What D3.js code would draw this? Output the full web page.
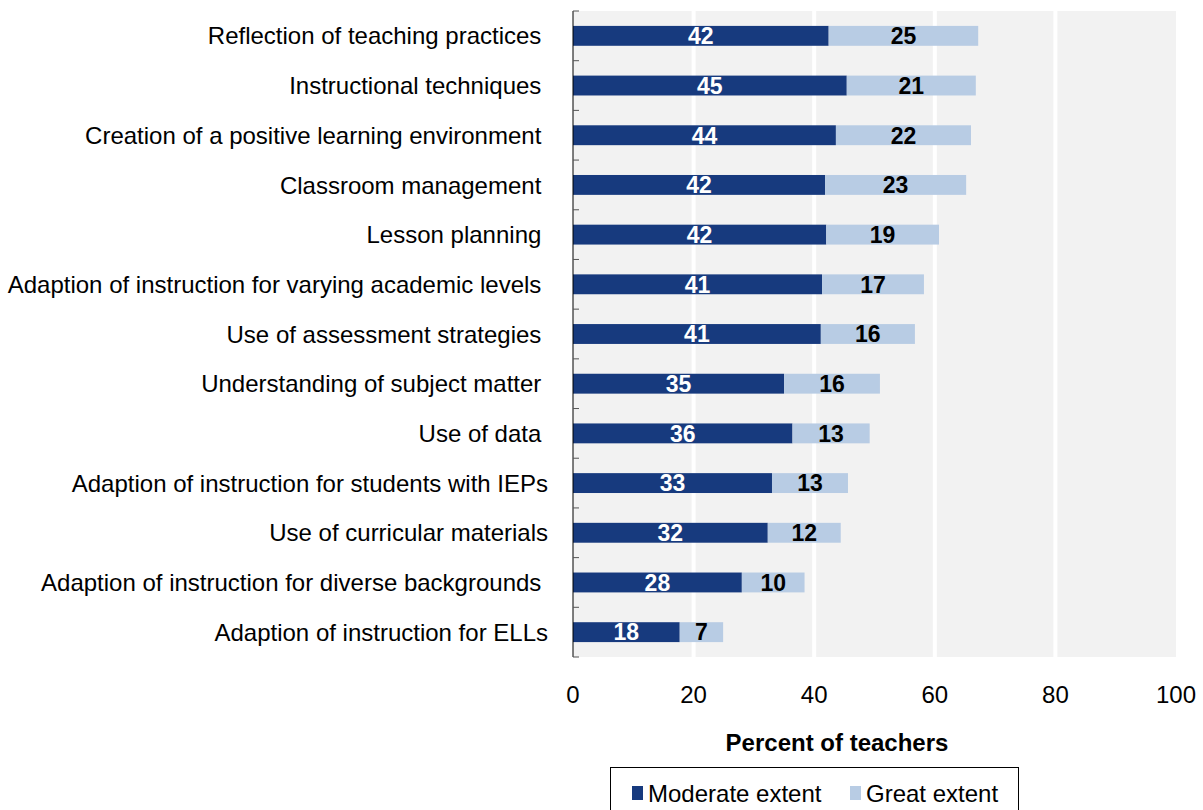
<!DOCTYPE html>
<html>
<head>
<meta charset="utf-8">
<script src="https://cdn.jsdelivr.net/npm/d3@7"></script>
<style>
  body { margin: 0; background: #fff; }
  svg { display: block; font-family: "Liberation Sans", Arial, sans-serif; }
</style>
</head>
<body>
<svg class="chart" width="1203" height="810"></svg>
<script>
// categories (trailing spaces kept as in the source labels)
const categories = [
    "Reflection of teaching practices ",
    "Instructional techniques ",
    "Creation of a positive learning environment ",
    "Classroom management ",
    "Lesson planning ",
    "Adaption of instruction for varying academic levels ",
    "Use of assessment strategies ",
    "Understanding of subject matter ",
    "Use of data ",
    "Adaption of instruction for students with IEPs",
    "Use of curricular materials",
    "Adaption of instruction for diverse backgrounds ",
    "Adaption of instruction for ELLs"
];
const moderate = [42.4, 45.4, 43.6, 41.8, 42.0, 41.3, 41.1, 35.0, 36.4, 33.0, 32.3, 28.0, 17.7];
const great = [24.8, 21.4, 22.4, 23.4, 18.7, 16.9, 15.6, 15.9, 12.8, 12.6, 12.1, 10.4, 7.2];
const xTicks = [0, 20, 40, 60, 80, 100];
const seriesNames = ["Moderate extent", "Great extent"];
const colours = ["#173a7e", "#b8cce4"];

const margin = {top: 11, right: 27, bottom: 153, left: 573};
const width = 1203 - margin.left - margin.right;
const height = 810 - margin.top - margin.bottom;

const svg = d3.select(".chart");
const chart = svg.append('g')
    .attr('transform', `translate(${margin.left}, ${margin.top})`);

const x = d3.scaleLinear().domain([0, 100]).range([0, width]);
const y = d3.scaleBand().domain(categories).range([0, height]).paddingInner(0.6).paddingOuter(0.3);

const rows = categories.map((c, i) => ({cat: c, m: moderate[i], g: great[i]}));

// plot background + gridlines
chart.append('rect')
    .attr('width', width).attr('height', height)
    .style('fill', '#f2f2f2');

chart.selectAll('.grid')
    .data(xTicks.slice(1, -1))
    .enter().append('line')
    .attr('class', 'grid')
    .attr('x1', d => x(d)).attr('x2', d => x(d))
    .attr('y1', 0).attr('y2', height)
    .style('stroke', '#fff').style('stroke-width', 4);

// bars
chart.selectAll('.mod')
    .data(rows)
    .enter().append('rect')
    .attr('class', 'mod')
    .attr('x', x(0))
    .attr('y', d => y(d.cat))
    .attr('width', d => x(d.m) - x(0))
    .attr('height', y.bandwidth())
    .style('fill', colours[0]);

chart.selectAll('.great')
    .data(rows)
    .enter().append('rect')
    .attr('class', 'great')
    .attr('x', d => x(d.m))
    .attr('y', d => y(d.cat))
    .attr('width', d => x(d.m + d.g) - x(d.m))
    .attr('height', y.bandwidth())
    .style('fill', colours[1]);

// value labels
chart.selectAll('.modlab')
    .data(rows)
    .enter().append('text')
    .attr('class', 'modlab')
    .attr('x', d => x(d.m / 2))
    .attr('y', d => y(d.cat) + y.bandwidth() / 2)
    .attr('dy', '0.36em')
    .attr('text-anchor', 'middle')
    .style('font-size', '23px').style('font-weight', 'bold').style('fill', '#fff')
    .text(d => Math.round(d.m));

chart.selectAll('.greatlab')
    .data(rows)
    .enter().append('text')
    .attr('class', 'greatlab')
    .attr('x', d => x(d.m + d.g / 2))
    .attr('y', d => y(d.cat) + y.bandwidth() / 2)
    .attr('dy', '0.36em')
    .attr('text-anchor', 'middle')
    .style('font-size', '23px').style('font-weight', 'bold').style('fill', '#000')
    .text(d => Math.round(d.g));

// y axis: line with inward ticks at band boundaries
const bounds = d3.range(categories.length + 1).map(i => i * height / categories.length);
chart.append('line')
    .attr('x1', 0).attr('x2', 0).attr('y1', 0).attr('y2', height)
    .style('stroke', '#000').style('stroke-width', 1);
chart.selectAll('.ytick')
    .data(bounds)
    .enter().append('line')
    .attr('class', 'ytick')
    .attr('x1', 0).attr('x2', 6)
    .attr('y1', d => d).attr('y2', d => d)
    .style('stroke', '#555').style('stroke-width', 1);

chart.selectAll('.cat')
    .data(rows)
    .enter().append('text')
    .attr('class', 'cat')
    .attr('x', -25)
    .attr('y', d => y(d.cat) + y.bandwidth() / 2)
    .attr('dy', '0.36em')
    .attr('text-anchor', 'end')
    .style('font-size', '24px').style('white-space', 'pre').style('fill', '#000')
    .text(d => d.cat);

// x axis labels (no line)
chart.selectAll('.xlab')
    .data(xTicks)
    .enter().append('text')
    .attr('class', 'xlab')
    .attr('x', d => x(d))
    .attr('y', height + 37)
    .attr('dy', '0.36em')
    .attr('text-anchor', 'middle')
    .style('font-size', '24px')
    .text(d => d);

chart.append('text')
    .attr('x', 264)
    .attr('y', height + 85)
    .attr('dy', '0.36em')
    .attr('text-anchor', 'middle')
    .style('font-size', '24px').style('font-weight', 'bold')
    .text('Percent of teachers');

// legend
const legend = svg.append('g').attr('transform', 'translate(610, 767)');
legend.append('rect')
    .attr('x', 0.5).attr('y', 0.5).attr('width', 408).attr('height', 50)
    .style('fill', '#fff').style('stroke', '#000').style('stroke-width', 1);
const items = legend.selectAll('.leg')
    .data(seriesNames)
    .enter().append('g')
    .attr('class', 'leg')
    .attr('transform', (d, i) => `translate(${[22, 240][i]}, 0)`);
items.append('rect')
    .attr('x', 0).attr('y', 19).attr('width', 11).attr('height', 14)
    .style('fill', (d, i) => colours[i]);
items.append('text')
    .attr('x', 16).attr('y', 26)
    .attr('dy', '0.36em')
    .style('font-size', '24px')
    .text(d => d);
</script>
</body>
</html>
